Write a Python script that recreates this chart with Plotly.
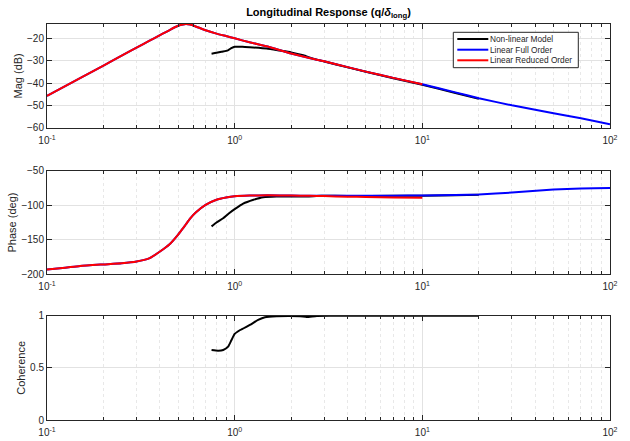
import plotly.graph_objects as go
from plotly.subplots import make_subplots

# ---- frequency response data (rad/s) ----
# Linear reduced order model
red_freq = [0.1, 0.125, 0.15, 0.2, 0.25, 0.3, 0.35, 0.4, 0.45, 0.5, 0.53, 0.55, 0.58, 0.62,
            0.7, 0.8, 0.9, 1.0, 1.2, 1.5, 2.0, 2.5, 3.0, 4.0, 5.0, 7.0, 10.0]
red_mag = [-45.8, -41.4, -37.8, -32.2, -27.8, -24.2, -21.2, -18.6, -16.3, -14.4, -13.8, -13.6,
           -13.85, -14.7, -16.4, -17.9, -19.0, -20.0, -21.8, -23.7, -26.8, -28.8, -30.3, -32.9,
           -34.9, -37.7, -40.6]
red_phase = [-193.0, -190.5, -188.0, -185.7, -184.0, -181.5, -177.0, -167.0, -156.5, -142.5,
             -133.5, -127.5, -119.0, -110.5, -99.5, -92.0, -88.8, -87.0, -86.0, -85.6, -86.0,
             -86.3, -86.8, -87.6, -88.1, -88.8, -89.2]

# Linear full order model (extends to 100 rad/s)
blue_freq = red_freq + [15.0, 20.0, 30.0, 50.0, 70.0, 100.0]
blue_mag = red_mag + [-44.2, -46.8, -50.0, -53.5, -55.8, -58.5]
blue_phase = red_phase[:22] + [-86.2, -86.3, -86.4, -86.2, -85.9,
                               -85.3, -84.5, -81.7, -77.4, -75.6, -75.1]

# Non-linear model (identified from simulation)
nl_freq = [0.753, 0.8, 0.85, 0.92, 0.96, 1.0, 1.1, 1.2, 1.48, 1.74, 2.0, 2.32, 2.62, 3.0,
           4.0, 5.0, 7.0, 10.0, 15.0, 20.0]
nl_mag = [-26.9, -26.5, -26.0, -25.4, -24.4, -23.8, -23.8, -24.0, -24.6, -25.5, -26.3, -27.6,
          -29.1, -30.4, -33.0, -35.0, -37.9, -40.8, -44.5, -47.1]
nl_phase_freq = [0.753, 0.8, 0.868, 0.93, 1.0, 1.11, 1.26, 1.42, 1.67, 2.0, 2.42, 2.9,
                 4.0, 7.0, 10.0, 15.0, 20.0]
nl_phase = [-130.6, -125.0, -118.9, -112.0, -105.7, -97.7, -92.1, -88.3, -87.3, -87.5, -87.3,
            -86.4, -86.5, -86.4, -86.1, -85.5, -84.8]
coh_freq = [0.753, 0.816, 0.869, 0.923, 0.962, 1.0, 1.07, 1.205, 1.334, 1.45, 1.67, 2.23,
            2.42, 2.74, 3.35, 5.0, 10.0, 20.0]
coh = [0.671, 0.665, 0.671, 0.703, 0.767, 0.825, 0.863, 0.911, 0.959, 0.985, 0.994, 0.994,
       0.988, 0.998, 0.999, 1.0, 1.0, 1.0]

x_tickvals = [0.1, 1, 10, 100]
x_ticktext = ["10<sup>-1</sup>", "10<sup>0</sup>", "10<sup>1</sup>", "10<sup>2</sup>"]
minor_vals = [m * d for d in (0.1, 1, 10) for m in range(2, 10)]

AX = "#262626"
FONT = "Liberation Sans, Arial, sans-serif"

W, H = 630, 441
ML, MR, MT, MB = 47, 20, 24, 21
PW, PH = W - ML - MR, H - MT - MB


def px_x(x):
    return (x - ML) / PW


def px_y(y):
    return (H - MB - y) / PH


fig = make_subplots(rows=3, cols=1, vertical_spacing=0.1)

series = [
    ("Non-linear Model", "black", nl_freq, nl_mag, nl_phase_freq, nl_phase),
    ("Linear Full Order", "#0000ff", blue_freq, blue_mag, blue_freq, blue_phase),
    ("Linear Reduced Order", "#ff0000", red_freq, red_mag, red_freq, red_phase),
]
for name, color, fm, mag, fp, ph in series:
    line = dict(color=color, width=2, shape="spline", smoothing=0.5)
    fig.add_trace(go.Scatter(x=fm, y=mag, mode="lines", name=name, line=line), row=1, col=1)
    fig.add_trace(go.Scatter(x=fp, y=ph, mode="lines", name=name, line=line), row=2, col=1)

fig.add_trace(go.Scatter(x=coh_freq, y=coh, mode="lines", name="Coherence",
                         line=dict(color="black", width=2, shape="spline", smoothing=0.5)),
              row=3, col=1)

domains = [[px_y(127.7), px_y(24)], [px_y(274.3), px_y(170.7)], [px_y(420), px_y(315.7)]]

axis_common = dict(
    showline=True, linecolor=AX, linewidth=1, mirror="ticks",
    ticks="inside", ticklen=5, tickcolor=AX, tickwidth=1,
    showgrid=True, gridcolor="#e2e2e2", gridwidth=1, zeroline=False,
    automargin=False,
    tickfont=dict(family=FONT, size=10, color=AX),
)

for i in range(3):
    xa = "xaxis" if i == 0 else f"xaxis{i+1}"
    ya = "yaxis" if i == 0 else f"yaxis{i+1}"
    fig.layout[xa].update(
        type="log", range=[-1, 2], tickmode="array",
        tickvals=x_tickvals, ticktext=x_ticktext, ticklabelstandoff=3,
        minor=dict(tickmode="array", tickvals=minor_vals, ticks="inside", ticklen=3,
                   tickcolor=AX, showgrid=True, gridcolor="#e8e8e8", griddash="dot",
                   gridwidth=1),
        **axis_common,
    )
    fig.layout[ya].update(domain=domains[i], **axis_common)

title_font = dict(family=FONT, size=11, color=AX)
fig.layout.yaxis.update(range=[-60, -13.6], tickvals=[-60, -50, -40, -30, -20],
                        title=dict(text="Mag (dB)", font=title_font, standoff=2))
fig.layout.yaxis2.update(range=[-200, -50], tickvals=[-200, -150, -100, -50],
                         title=dict(text="Phase (deg)", font=title_font, standoff=2))
fig.layout.yaxis3.update(range=[0, 1], tickvals=[0, 0.5, 1],
                         title=dict(text="Coherence", font=title_font, standoff=2))

# Legend box drawn in paper space, compact like a MATLAB legend
legend_box = dict(x0=453.3, x1=578.3, y0=32.3, y1=67.7)
legend_rows = [39.0, 49.7, 60.3]
shapes = [dict(type="rect", xref="paper", yref="paper",
               x0=px_x(legend_box["x0"]), x1=px_x(legend_box["x1"]),
               y0=px_y(legend_box["y1"]), y1=px_y(legend_box["y0"]),
               line=dict(color=AX, width=1), fillcolor="white", layer="above")]
annotations = []
for (name, color, *_), ry in zip(series, legend_rows):
    shapes.append(dict(type="line", xref="paper", yref="paper",
                       x0=px_x(457.3), x1=px_x(488.3), y0=px_y(ry), y1=px_y(ry),
                       line=dict(color=color, width=2), layer="above"))
    annotations.append(dict(text=name, xref="paper", yref="paper",
                            x=px_x(488.0), y=px_y(ry), xanchor="left", yanchor="middle",
                            showarrow=False, font=dict(family=FONT, size=8.3, color=AX)))

fig.update_layout(
    width=W, height=H,
    margin=dict(l=ML, r=MR, t=MT, b=MB),
    paper_bgcolor="white", plot_bgcolor="white",
    font=dict(family=FONT, size=10, color=AX),
    title=dict(text="<b>Longitudinal Response (q/<i>δ</i><sub>long</sub>)</b>",
               x=0.5, xref="paper", xanchor="center",
               y=1 - 12 / H, yref="container", yanchor="middle",
               font=dict(family=FONT, size=11, color="black")),
    showlegend=False,
    shapes=shapes,
    annotations=annotations,
)

fig.write_html("out.html")
